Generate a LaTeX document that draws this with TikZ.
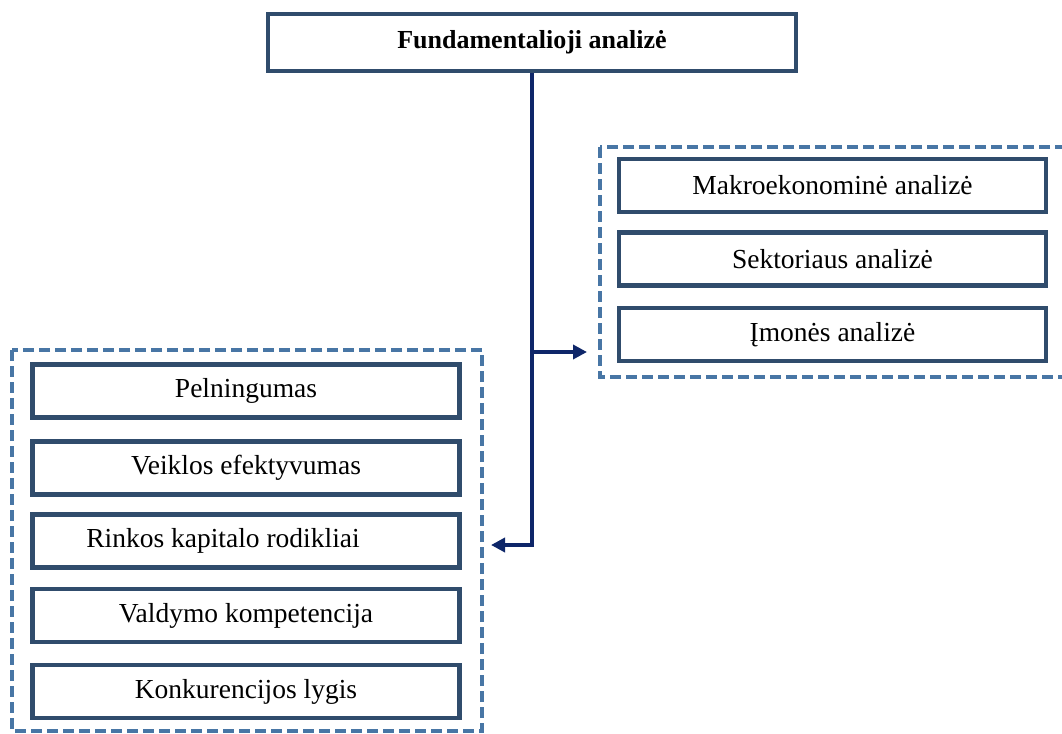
\documentclass[tikz,border=0pt]{standalone}
\usepackage{fontspec}
\setmainfont{Liberation Serif}
\usepackage{xcolor}
\usetikzlibrary{arrows.meta}
\definecolor{boxblue}{RGB}{48,76,108}
\definecolor{dashblue}{RGB}{72,118,165}
\definecolor{arrnavy}{RGB}{14,38,105}

\begin{document}
\begin{tikzpicture}[x=1pt, y=-1pt,
    every node/.style={rectangle, draw=boxblue, line width=4.5pt, inner sep=0pt, minimum width=427pt, minimum height=53pt, font=\fontsize{27.5}{32}\selectfont},
    group/.style={draw=dashblue, line width=3.5pt, dash pattern=on 11pt off 5pt},
    arr/.style={draw=arrnavy, line width=3.8pt, -{Triangle[length=14pt, width=14pt]}}]
    \useasboundingbox (0,0) rectangle (1062,733);

    % dashed groups
    \draw[group] (600,147) rectangle (1075,377);
    \draw[group] (12,350) rectangle (482,731);

    \node[minimum width=528pt, minimum height=57pt, font=\fontsize{26}{30}\selectfont\bfseries] (A) at (532,42.5) {Fundamentalioji analizė};

    \node (M) at (832.5,185.5) {Makroekonominė analizė};
    \node (S) at (832.5,259) {Sektoriaus analizė};
    \node (I) at (832.5,334.5) {Įmonės analizė};

    \node (P) at (246,391) {Pelningumas};
    \node (V) at (246,468) {Veiklos efektyvumas};
    \node (R) at (246,541) {Rinkos kapitalo rodikliai\hspace*{46pt}};
    \node (D) at (246,615.5) {Valdymo kompetencija};
    \node (K) at (246,691.5) {Konkurencijos lygis};

    \coordinate (r) at (587,352);
    \coordinate (l) at (491,545);
    \draw[arr] (A.south) |- (l);
    \draw[arr] (A.south |- r) -- (r);
\end{tikzpicture}
\end{document}
